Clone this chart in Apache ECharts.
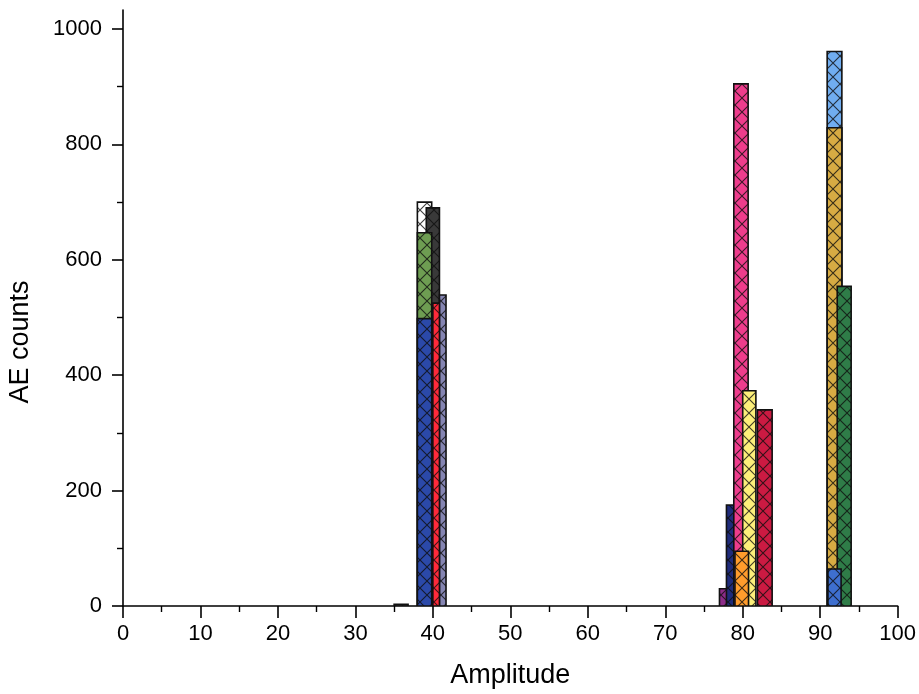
<!DOCTYPE html>
<html>
<head>
<meta charset="utf-8">
<title>AE counts vs Amplitude</title>
<script src="https://cdn.jsdelivr.net/npm/echarts@6/dist/echarts.min.js"></script>
<style>
  html, body { margin: 0; padding: 0; background: #ffffff; }
  #chart { width: 919px; height: 694px; }
</style>
</head>
<body>
<div id="chart"></div>
<script>
// Amplitude bins (left and right edges) and AE counts, listed back to front
const binLeft  = [35.0, 38.0, 39.15, 38.0, 40.85, 40.0, 38.0, 77.0, 77.9, 78.85, 80.0, 79.0, 81.9, 90.9, 90.9, 92.2, 91.0];
const binRight = [36.8, 39.85, 40.85, 39.85, 41.7, 40.85, 39.85, 78.85, 79.0, 80.7, 81.7, 80.75, 83.8, 92.8, 92.8, 94.0, 92.7];
const counts   = [3, 700, 690, 647, 539, 525, 498, 30, 175, 905, 373, 95, 340, 961, 829, 554, 64];

// Axis ticks
const xTickValues = [0, 10, 20, 30, 40, 50, 60, 70, 80, 90, 100];
const yTickValues = [0, 200, 400, 600, 800, 1000];
const yMinorTickValues = [100, 300, 500, 700, 900];

// Fill colour of each bar (same order as the bins)
const fills = ['#333333', '#ffffff', '#393939', '#6e9d52', '#8585b2', '#ff2a3a', '#2b49a9',
               '#8c2c88', '#1f2b7a', '#ee3c8c', '#fcef7a', '#ff9c2c', '#cb1a42',
               '#70adf0', '#d7ab43', '#2f7c48', '#3e6fcf'];

const FONT = '"Liberation Sans", Arial, Helvetica, sans-serif';

// Cross-hatch tile drawn over each fill colour
function hatchPattern(color) {
  const p = 14;
  const c = document.createElement('canvas');
  c.width = p; c.height = p;
  const ctx = c.getContext('2d');
  ctx.fillStyle = color;
  ctx.fillRect(0, 0, p, p);
  ctx.strokeStyle = 'rgba(15,15,15,0.8)';
  ctx.lineWidth = 1.1;
  ctx.beginPath();
  ctx.moveTo(-2, -2); ctx.lineTo(p + 2, p + 2);
  ctx.moveTo(p + 2, -2); ctx.lineTo(-2, p + 2);
  ctx.stroke();
  return { image: c, repeat: 'repeat' };
}
const patterns = fills.map(hatchPattern);

const barData = counts.map((v, i) => [binLeft[i], binRight[i], v]);

const plain = v => String(v);

const chart = echarts.init(document.getElementById('chart'), null, { renderer: 'canvas' });

chart.setOption({
  animation: false,
  backgroundColor: '#ffffff',
  grid: { left: 123, right: 21, top: 10, bottom: 86, containLabel: false },
  xAxis: {
    type: 'value',
    min: 0, max: 100, interval: 10,
    name: 'Amplitude',
    nameLocation: 'middle',
    nameGap: 56,
    nameTextStyle: { fontFamily: FONT, fontSize: 27, color: '#000' },
    axisLine: { show: true, onZero: false, lineStyle: { color: '#000', width: 1.6 } },
    axisTick: { show: true, inside: false, length: 12, lineStyle: { color: '#000', width: 1.6 }, customValues: xTickValues },
    minorTick: { show: true, splitNumber: 2, length: 6, lineStyle: { color: '#000', width: 1.4 } },
    axisLabel: { fontFamily: FONT, fontSize: 22, color: '#000', margin: 17, customValues: xTickValues, formatter: plain },
    splitLine: { show: false },
    minorSplitLine: { show: false }
  },
  yAxis: [
    {
      type: 'value',
      min: 0, max: 1033, interval: 200,
      position: 'left',
      axisLine: { show: true, onZero: false, lineStyle: { color: '#000', width: 1.6 } },
      axisTick: { show: true, inside: false, length: 11, lineStyle: { color: '#000', width: 1.6 }, customValues: yTickValues },
      axisLabel: { fontFamily: FONT, fontSize: 22, color: '#000', margin: 21, customValues: yTickValues, formatter: plain },
      splitLine: { show: false }
    },
    {
      type: 'value',
      min: 0, max: 1033, interval: 200,
      position: 'left',
      axisLine: { show: false },
      axisTick: { show: true, inside: false, length: 6, lineStyle: { color: '#000', width: 1.4 }, customValues: yMinorTickValues },
      axisLabel: { show: false },
      splitLine: { show: false }
    }
  ],
  graphic: [{
    type: 'text',
    x: 21, y: 342,
    rotation: Math.PI / 2,
    style: {
      text: 'AE counts',
      font: '27px ' + FONT,
      fill: '#000',
      textAlign: 'center',
      textVerticalAlign: 'middle'
    }
  }],
  series: [{
    type: 'custom',
    xAxisIndex: 0,
    yAxisIndex: 0,
    clip: true,
    encode: { x: [0, 1], y: 2 },
    data: barData,
    renderItem: function (params, api) {
      const x0 = api.value(0), x1 = api.value(1), v = api.value(2);
      const topLeft = api.coord([x0, v]);
      const bottomRight = api.coord([x1, 0]);
      return {
        type: 'rect',
        shape: {
          x: topLeft[0],
          y: topLeft[1],
          width: bottomRight[0] - topLeft[0],
          height: bottomRight[1] - topLeft[1]
        },
        style: {
          fill: patterns[params.dataIndex],
          stroke: '#111111',
          lineWidth: 1.6
        }
      };
    }
  }]
});
</script>
</body>
</html>
